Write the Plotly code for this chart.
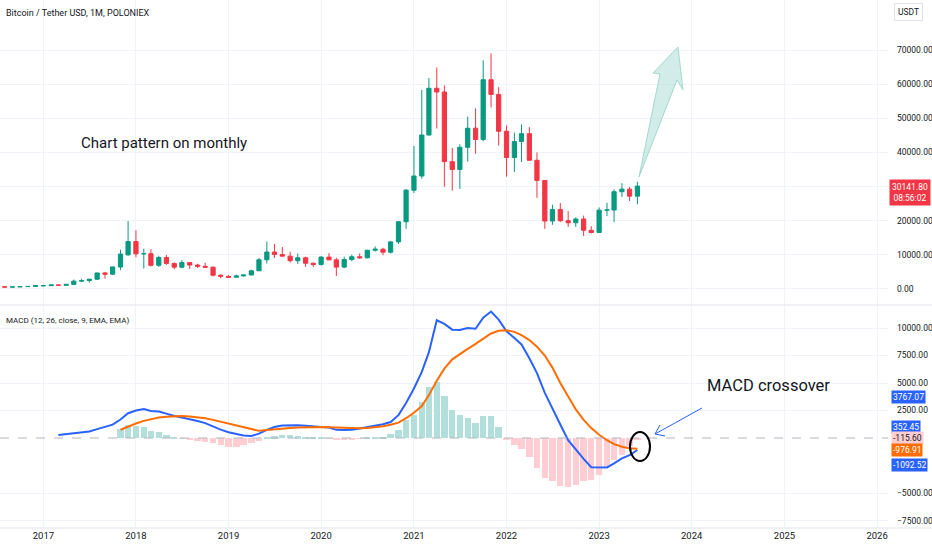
import pandas as pd
import plotly.graph_objects as go
from plotly.subplots import make_subplots

# monthly BTC/USDT candles, Aug 2016 .. Jun 2023
first_month = "2016-08-01"
opens = [624, 575, 609, 700, 745,
         963, 970, 1190, 1080, 1350, 2300, 2480, 2870, 4700, 4340, 6440, 10000,
         13900, 10300, 10350, 6930, 9240, 7490, 6390, 7730, 7010, 6630, 6370, 4040,
         3700, 3440, 3830, 4100, 5330, 8560, 10830, 10090, 9620, 8290, 9150, 7540,
         7190, 9350, 8530, 6410, 8620, 9450, 9130, 11350, 11650, 10780, 13800, 19700,
         28950, 33100, 45100, 58800, 57700, 37300, 35000, 41500, 47100, 43800, 61300, 57000,
         46200, 38500, 43200, 45500, 37700, 31800, 19900, 23300, 20000, 19400, 20500, 17200,
         16550, 23100, 23150, 28500, 29250, 27200]
highs = [626, 610, 740, 755, 975,
         1150, 1200, 1290, 1350, 2760, 2980, 2920, 4740, 4980, 6470, 11500, 19900,
         17200, 11800, 11700, 9740, 9990, 7760, 8490, 7760, 7400, 7680, 6620, 4240,
         4100, 4200, 4130, 5640, 9100, 13900, 13200, 12300, 10950, 10400, 9500, 7750,
         9580, 10500, 9180, 9460, 10080, 10400, 11450, 12470, 12070, 14100, 19900, 29300,
         41900, 58300, 61800, 64900, 59600, 41300, 42400, 50500, 52900, 67000, 69000, 59100,
         47900, 45800, 48200, 47400, 40000, 31900, 24700, 25200, 22800, 21000, 21500, 18400,
         23900, 25250, 29200, 31000, 29850, 31400]
lows = [480, 570, 604, 680, 740,
        750, 940, 890, 1060, 1350, 2100, 1830, 2670, 2980, 4100, 5500, 9700,
        9300, 6000, 6600, 6430, 7060, 5770, 6070, 5880, 6120, 6180, 3650, 3150,
        3340, 3400, 3700, 4060, 5330, 7460, 9100, 9400, 7750, 7330, 6500, 6440,
        6860, 8450, 3800, 6150, 8120, 8900, 8960, 10950, 9870, 10370, 13200, 17600,
        28100, 32300, 45000, 47000, 30000, 28800, 29300, 37300, 39600, 43300, 53200, 42000,
        32900, 34300, 37200, 37600, 26700, 17600, 18800, 19600, 18200, 18200, 15500, 16300,
        16500, 21350, 19550, 26950, 25800, 24800]
closes = [575, 609, 700, 745, 963,
          970, 1190, 1080, 1350, 2300, 2480, 2870, 4700, 4340, 6470, 10230, 13900,
          10300, 10350, 6930, 9240, 7490, 6390, 7730, 7010, 6630, 6370, 4040, 3700,
          3440, 3830, 4100, 5330, 8560, 10830, 10090, 9620, 8290, 9150, 7540, 7190,
          9350, 8530, 6410, 8620, 9450, 9130, 11350, 11650, 10780, 13800, 19700, 28950,
          33100, 45100, 58800, 57700, 37300, 35000, 41500, 47100, 43800, 61300, 57000, 46200,
          38500, 43200, 45500, 37700, 31800, 19900, 23300, 20000, 19400, 20500, 17200, 16550,
          23100, 23150, 28500, 29250, 27200, 30141.8]

# MACD (12, 26, 9)
macd_start = "2017-03-01"
macd_line = [270, 350, 430, 500, 600, 810, 1000, 1220, 1680, 2250,
             2500, 2640, 2460, 2400, 2220, 2000, 1870, 1730, 1550, 1350, 1030, 760,
             530, 350, 220, 180, 400, 740, 1000, 1130, 1150, 1170, 1120, 1030,
             990, 950, 740, 730, 760, 870, 980, 1100, 1250, 1450, 2080, 3190,
             4500, 6010, 7800, 10700, 10370, 9850, 9820, 10000, 9930, 10930, 11500, 10760,
             9700, 9100, 8500, 7250, 5900, 4100, 2750, 1230, -200, -1090, -1900, -2650,
             -2670, -2670, -2300, -1850, -1550, -1092.52]
signal_start = "2017-11-01"
signal_line = [750, 1050,
               1320, 1560, 1720, 1870, 1940, 1990, 1990, 1960, 1890, 1800, 1650, 1480,
               1300, 1120, 930, 760, 650, 720, 800, 860, 920, 950, 980, 1000,
               990, 975, 950, 920, 900, 880, 920, 980, 1060, 1200, 1400, 1800,
               2300, 2900, 3900, 5200, 6300, 7150, 7650, 8100, 8550, 9050, 9500, 9750,
               9800, 9650, 9350, 8900, 8300, 7500, 6400, 5000, 3750, 2600, 1650, 900,
               300, -200, -560, -800, -930, -976.91]
histogram = [820, 1180,
             1120, 970, 640, 520, 270, 60, -50, -180, -250, -330, -450, -640,
             -790, -790, -640, -450, -250, 30, 180, 270, 230, 180, 120, 40,
             10, -20, -150, -180, -130, -20, 60, 120, 120, 330, 730, 1640,
             2090, 3300, 4660, 5060, 3850, 2550, 2090, 1790, 1340, 2000, 2000, 1030,
             -120, -640, -1000, -1700, -2700, -3650, -3950, -4400, -4450, -4300, -3950, -3800,
             -3350, -2600, -2000, -1500, -760, -115.60]

# 30000 is hidden behind the last-price tag on the scale
price_ticks = [0, 10000, 20000, 40000, 50000, 60000, 70000]
macd_ticks = [-7500, -5000, 2500, 5000, 7500, 10000]

months = pd.date_range(first_month, periods=len(closes), freq="MS")
macd_months = pd.date_range(macd_start, periods=len(macd_line), freq="MS")
sig_months = pd.date_range(signal_start, periods=len(signal_line), freq="MS")

GREEN = "#089981"
RED = "#F23645"
FONT = "Roboto, Liberation Sans, sans-serif"
W, H = 888, 528  # plot area in px


def px(x, y):
    # pixel position inside plot area -> paper coords
    return x / W, 1 - y / H


fig = make_subplots(rows=2, cols=1, shared_xaxes=True, vertical_spacing=0)

fig.add_trace(go.Candlestick(
    x=months, open=opens, high=highs, low=lows, close=closes,
    increasing=dict(line=dict(color=GREEN, width=1), fillcolor=GREEN),
    decreasing=dict(line=dict(color=RED, width=1), fillcolor=RED),
    whiskerwidth=0, showlegend=False), row=1, col=1)

bar_cols = ["#B2DFDB" if v >= 0 else "#FFCDD2" for v in histogram]
fig.add_trace(go.Bar(x=sig_months, y=histogram, marker_color=bar_cols,
                     marker_line_width=0, width=25 * 86400000,
                     showlegend=False), row=2, col=1)
fig.add_trace(go.Scatter(x=macd_months, y=macd_line, mode="lines",
                         line=dict(color="#2962FF", width=2), showlegend=False),
              row=2, col=1)
fig.add_trace(go.Scatter(x=sig_months, y=signal_line, mode="lines",
                         line=dict(color="#FF6D00", width=2), showlegend=False),
              row=2, col=1)

grid = "#f0f3fa"
fig.update_xaxes(range=["2016-07-14", "2026-02-13"], showgrid=True, gridcolor=grid,
                 dtick="M12", tick0="2017-01-01", tickformat="%Y", ticks="",
                 rangeslider_visible=False, zeroline=False, showline=False,
                 tickfont=dict(family=FONT, size=9.5, color="#131722"))
fig.update_xaxes(showticklabels=False, row=1, col=1)
fig.update_yaxes(side="right", showgrid=True, gridcolor=grid, zeroline=False,
                 ticks="", tickformat=".2f", ticklabelstandoff=8,
                 tickfont=dict(family=FONT, size=8.5, color="#131722"))
fig.update_layout(
    yaxis=dict(domain=[1 - 305 / H, 1], range=[-4690, 84650], tickvals=price_ticks),
    yaxis2=dict(domain=[0, 1 - 306 / H], range=[-8180, 12000], tickvals=macd_ticks),
    width=932, height=550, margin=dict(l=0, r=932 - W, t=0, b=550 - H),
    plot_bgcolor="white", paper_bgcolor="white", bargap=0, boxgap=0.15,
    font=dict(family=FONT, color="#131722"),
)

shapes = []
# grid line under the price tag
shapes.append(dict(type="line", xref="paper", yref="y", x0=0, x1=1, y0=30000, y1=30000,
                   layer="below", line=dict(color=grid, width=1)))
# pane separators
shapes.append(dict(type="line", xref="paper", yref="paper", x0=0, x1=1.06,
                   y0=px(0, 305)[1], y1=px(0, 305)[1], line=dict(color="#e0e3eb", width=1)))
shapes.append(dict(type="line", xref="paper", yref="paper", x0=0, x1=1.06,
                   y0=0, y1=0, line=dict(color="#e0e3eb", width=1)))
# zero line of MACD
shapes.append(dict(type="line", xref="paper", yref="y2", x0=0, x1=1, y0=0, y1=0,
                   line=dict(color="#b2b5be", width=1, dash="dash")))
# hand drawn teal arrow on price pane
pts = [(639, 177), (660, 74), (653, 73), (678, 47), (683, 90), (677, 80)]
path = "M " + " L ".join("%.4f,%.4f" % px(a, b) for a, b in pts) + " Z"
shapes.append(dict(type="path", xref="paper", yref="paper", path=path,
                   fillcolor="rgba(178,223,219,0.6)", line=dict(color="#a3d8ce", width=1)))
# circle around crossover
x0, y0 = px(630, 432)
x1, y1 = px(650, 461)
shapes.append(dict(type="circle", xref="paper", yref="paper", x0=x0, x1=x1, y0=y1, y1=y0,
                   line=dict(color="black", width=2)))
# thin blue arrow pointing at the circle
for a, b in [((702, 408), (655, 434)), ((655, 434), (665, 436)), ((655, 434), (660, 425))]:
    xa, ya = px(*a)
    xb, yb = px(*b)
    shapes.append(dict(type="line", xref="paper", yref="paper", x0=xa, y0=ya, x1=xb, y1=yb,
                       line=dict(color="#2962FF", width=1)))
fig.update_layout(shapes=shapes)

ann = []
ann.append(dict(xref="paper", yref="paper", x=0, y=1, xanchor="left", yanchor="top",
                xshift=4, yshift=-6, showarrow=False,
                text="Bitcoin / Tether USD, 1M, POLONIEX",
                font=dict(family=FONT, size=9, color="#131722")))
ann.append(dict(xref="paper", yref="paper", x=0, y=px(0, 320)[1], xanchor="left",
                yanchor="middle", xshift=4, showarrow=False,
                text="MACD (12, 26, close, 9, EMA, EMA)",
                font=dict(family=FONT, size=8, color="#131722")))
cx, cy = px(164, 143)
ann.append(dict(xref="paper", yref="paper", x=cx, y=cy, xanchor="center",
                yanchor="middle", showarrow=False, text="Chart pattern on monthly",
                font=dict(family=FONT, size=15, color="#131722")))
cx, cy = px(768, 385)
ann.append(dict(xref="paper", yref="paper", x=cx, y=cy, xanchor="center",
                yanchor="middle", showarrow=False, text="MACD crossover",
                font=dict(family=FONT, size=16.5, color="#131722")))
ann.append(dict(xref="paper", yref="paper", x=1, y=1, xanchor="left", yanchor="top",
                xshift=6, yshift=-3, showarrow=False, text="USDT",
                bordercolor="#e0e3eb", borderwidth=1, borderpad=3,
                font=dict(family=FONT, size=8.5, color="#131722")))
ann.append(dict(xref="paper", yref="y", x=1, y=closes[-1], xanchor="left",
                yanchor="top", yshift=7, xshift=1, showarrow=False,
                text="%.2f<br>08:56:02" % closes[-1], bgcolor=RED, borderpad=2,
                font=dict(family=FONT, size=8.5, color="white")))
# MACD pane price-scale labels (as pushed by the chart)
for val, ypx, bg, fg in [(3767.07, 397, "#2962FF", "white"),
                         (352.45, 427, "#2962FF", "white"),
                         (-115.60, 438, "#FFCDD2", "#131722"),
                         (-976.91, 450, "#FF6D00", "white"),
                         (-1092.52, 465, "#2962FF", "white")]:
    ann.append(dict(xref="paper", yref="paper", x=1, y=px(0, ypx)[1], xanchor="left",
                    yanchor="middle", xshift=3, showarrow=False, text="%.2f" % val,
                    bgcolor=bg, borderpad=1, font=dict(family=FONT, size=8.5, color=fg)))
fig.update_layout(annotations=ann)

# the page's default 8px body margin would push the chart off the window
fig.write_html("out.html", config={"displayModeBar": False},
               post_script="document.body.style.margin='0';")
